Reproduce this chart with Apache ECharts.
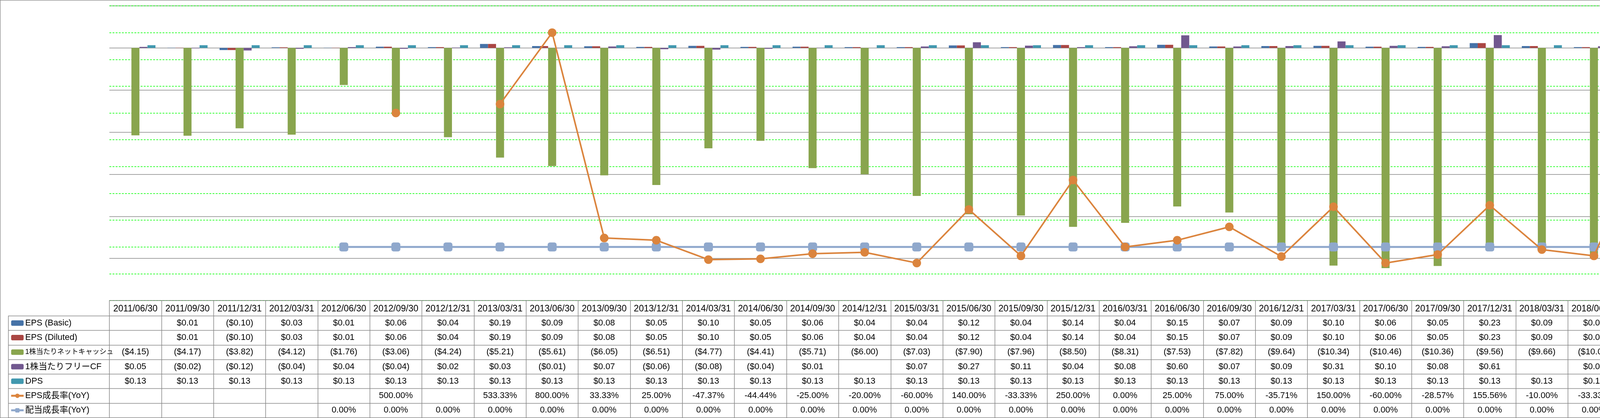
<!DOCTYPE html>
<html>
<head>
<meta charset="utf-8">
<script src="https://cdn.jsdelivr.net/npm/echarts@6/dist/echarts.min.js"></script>
<style>
html,body{margin:0;padding:0;background:#fff;overflow:hidden;}
#c{width:5877px;height:1071px;}
</style>
</head>
<body>
<div id="c"></div>
<script>
const categories = ['2011/06/30','2011/09/30','2011/12/31','2012/03/31','2012/06/30','2012/09/30','2012/12/31','2013/03/31','2013/06/30','2013/09/30','2013/12/31','2014/03/31','2014/06/30','2014/09/30','2014/12/31','2015/03/31','2015/06/30','2015/09/30','2015/12/31','2016/03/31','2016/06/30','2016/09/30','2016/12/31','2017/03/31','2017/06/30','2017/09/30','2017/12/31','2018/03/31','2018/06/30','2018/09/30','2018/12/31','2019/03/31','2019/06/30','2019/09/30','2019/12/31','2020/03/31','2020/06/30','2020/09/30','2020/12/31','2021/03/31'];
const epsBasic = [null,0.01,-0.10,0.03,0.01,0.06,0.04,0.19,0.09,0.08,0.05,0.10,0.05,0.06,0.04,0.04,0.12,0.04,0.14,0.04,0.15,0.07,0.09,0.10,0.06,0.05,0.23,0.09,0.04,0.25,0.22,0.08,0.05,0.13,0.16,0.04,0.06,-0.03,null,0.09];
const epsDiluted = [null,0.01,-0.10,0.03,0.01,0.06,0.04,0.19,0.09,0.08,0.05,0.10,0.05,0.06,0.04,0.04,0.12,0.04,0.14,0.04,0.15,0.07,0.09,0.10,0.06,0.05,0.23,0.09,0.04,0.25,0.22,0.08,0.05,0.13,0.16,0.04,0.06,-0.03,null,0.09];
const netCash = [-4.15,-4.17,-3.82,-4.12,-1.76,-3.06,-4.24,-5.21,-5.61,-6.05,-6.51,-4.77,-4.41,-5.71,-6.00,-7.03,-7.90,-7.96,-8.50,-8.31,-7.53,-7.82,-9.64,-10.34,-10.46,-10.36,-9.56,-9.66,-10.00,-9.60,-8.90,-8.81,-9.18,-8.89,-8.76,-8.29,-9.03,-9.50,-9.65,-9.99];
const fcf = [0.05,-0.02,-0.12,-0.04,0.04,-0.04,0.02,0.03,-0.01,0.07,-0.06,-0.08,-0.04,0.01,null,0.07,0.27,0.11,0.04,0.08,0.60,0.07,0.09,0.31,0.10,0.08,0.61,null,0.08,0.39,0.13,0.06,0.06,0.09,0.08,0.04,0.11,0.06,0.05,0.12];
const dps = [0.13,0.13,0.13,0.13,0.13,0.13,0.13,0.13,0.13,0.13,0.13,0.13,0.13,0.13,0.13,0.13,0.13,0.13,0.13,0.13,0.13,0.13,0.13,0.13,0.13,0.13,0.13,0.13,0.13,0.13,0.13,0.13,0.13,0.13,0.13,0.13,0.06,0.06,0.06,0.09];
const epsGrowth = [null,null,null,null,null,500.00,null,533.33,800.00,33.33,25.00,-47.37,-44.44,-25.00,-20.00,-60.00,140.00,-33.33,250.00,0.00,25.00,75.00,-35.71,150.00,-60.00,-28.57,155.56,-10.00,-33.33,400.00,-4.35,-11.11,25.00,-48.00,-27.27,-50.00,20.00,null,null,125.00];
const divGrowth = [null,null,null,null,0,0,0,0,0,0,0,0,0,0,0,0,0,0,0,0,0,0,0,0,0,0,0,0,0,0,0,0,0,0,0,0,-52.00,-52.00,-52.00,-28.00];
const seriesNames = ['EPS (Basic)','EPS (Diluted)','1株当たりネットキャッシュ','1株当たりフリーCF','DPS','EPS成長率(YoY)','配当成長率(YoY)'];
const moneyTicks = {min:-12, max:2, interval:2};
const pctTicks = {min:-200, max:900, interval:100};

const FONT = "'Liberation Sans', 'Noto Sans CJK JP', sans-serif";
const GRID = {left:280, right:263, top:15, bottom:301};
const W = 5877, H = 1071;
const GRAY = '#868686';
const colors = ['#4572A7','#AA4643','#89A54E','#71588F','#4198AF','#DB843D','#8FA8CC'];

function fmtMoney(v){ if(v==null) return ''; const s='$'+Math.abs(v).toFixed(2); return v<0?'('+s+')':s; }
function fmtPct(v){ return v==null?'':v.toFixed(2)+'%'; }

const chart = echarts.init(document.getElementById('c'), null, {renderer:'canvas'});

const barData = [epsBasic, epsDiluted, netCash, fcf, dps];
const series = barData.map((d,i)=>({
  name: seriesNames[i], type:'bar', yAxisIndex:0, data:d,
  barGap:'0%', barCategoryGap:'23%',
  itemStyle:{color:colors[i]}, z:2
}));
series.push({
  name: seriesNames[6], type:'line', yAxisIndex:1, data:divGrowth,
  symbol:'roundRect', symbolSize:23, showAllSymbol:true, connectNulls:false,
  lineStyle:{color:colors[6], width:5}, itemStyle:{color:colors[6]}, z:4
});
series.push({
  name: seriesNames[5], type:'line', yAxisIndex:1, data:epsGrowth,
  symbol:'circle', symbolSize:22, showAllSymbol:true, connectNulls:false,
  lineStyle:{color:colors[5], width:4}, itemStyle:{color:colors[5]}, z:5
});

const ROW_TOP = H - GRID.bottom + 39;
const ROW_H = (H - 1 - ROW_TOP) / 7;

function legendCfg(left){
  return {
    orient:'vertical', left:left, top: ROW_TOP + ROW_H/2 - 11, padding:0,
    itemWidth:32, itemHeight:14, itemGap: ROW_H - 22,
    selectedMode:false,
    lineStyle:{width:5},
    textStyle:{fontFamily:FONT, fontSize:22, lineHeight:22, color:'#000', padding:[0,0,0,-1]},
    data: seriesNames.map(n => n==='1株当たりネットキャッシュ'
      ? {name:n, textStyle:{fontSize:18, lineHeight:22}}
      : {name:n})
  };
}

const option = {
  animation:false,
  backgroundColor:'#fff',
  textStyle:{fontFamily:FONT},
  grid:{left:GRID.left, right:GRID.right, top:GRID.top, bottom:GRID.bottom, containLabel:false},
  legend:[legendCfg(26), legendCfg(5619)],
  xAxis:{
    type:'category', data:categories, boundaryGap:true,
    axisLine:{show:true, onZero:false, lineStyle:{color:GRAY, width:1.5}},
    axisTick:{show:true, interval:0, length:H - 1 - (H - GRID.bottom), lineStyle:{color:GRAY, width:1.5}},
    axisLabel:{interval:0, fontSize:23, margin:10, color:'#000', fontFamily:FONT},
    splitLine:{show:false}
  },
  yAxis:[
    {
      type:'value', position:'right', offset:0,
      min:moneyTicks.min, max:moneyTicks.max, interval:moneyTicks.interval,
      axisLine:{show:true, lineStyle:{color:GRAY, width:1.5}},
      axisTick:{show:false},
      axisLabel:{margin:24, fontSize:22, fontFamily:FONT,
        formatter:v=>fmtMoney(v), color:v=>(v<0?'#FF0000':'#000')},
      splitLine:{show:true, lineStyle:{color:GRAY, width:1.5}}
    },
    {
      type:'value', position:'right', offset:112,
      min:pctTicks.min, max:pctTicks.max, interval:pctTicks.interval,
      axisLine:{show:true, lineStyle:{color:'#00FF00', width:1, type:[4,3]}},
      axisTick:{show:true, length:8, lineStyle:{color:'#00FF00', width:1, type:[4,3]}},
      axisLabel:{margin:23, fontSize:22, fontFamily:FONT,
        formatter:v=>v.toFixed(2)+'%', color:v=>(v<0?'#FF0000':'#000')},
      splitLine:{show:true, lineStyle:{color:'#00FF00', width:1.5, type:[5,3]}}
    }
  ],
  series:series
};
chart.setOption(option);

// data table built from the arrays, positioned via the category axis scale
const rows = [
  epsBasic.map(fmtMoney), epsDiluted.map(fmtMoney), netCash.map(fmtMoney),
  fcf.map(fmtMoney), dps.map(fmtMoney), epsGrowth.map(fmtPct), divGrowth.map(fmtPct)
];
const g = [];
const plotRight = W - GRID.right;
for(let k=0;k<=7;k++){
  const y = Math.round(ROW_TOP + ROW_H*k) + 0.5;
  g.push({type:'line', silent:true, shape:{x1:21, y1:y, x2:plotRight, y2:y}, style:{stroke:GRAY, lineWidth:1.5}});
}
g.push({type:'line', silent:true, shape:{x1:21.5, y1:ROW_TOP, x2:21.5, y2:H-1}, style:{stroke:GRAY, lineWidth:1.5}});
rows.forEach((r,ri)=>{
  const yc = ROW_TOP + ROW_H*(ri+0.5);
  r.forEach((t,ci)=>{
    if(!t) return;
    const xc = chart.convertToPixel({xAxisIndex:0}, categories[ci]);
    g.push({type:'text', silent:true, x:xc, y:yc,
      style:{text:t, fill:'#000', fontSize:22, fontFamily:FONT, align:'center', verticalAlign:'middle'}});
  });
});
g.push({type:'rect', silent:true, shape:{x:0.5, y:0.5, width:W-1, height:H-1}, style:{fill:null, stroke:GRAY, lineWidth:1.5}});
chart.setOption({graphic:{elements:g}});
</script>
</body>
</html>
